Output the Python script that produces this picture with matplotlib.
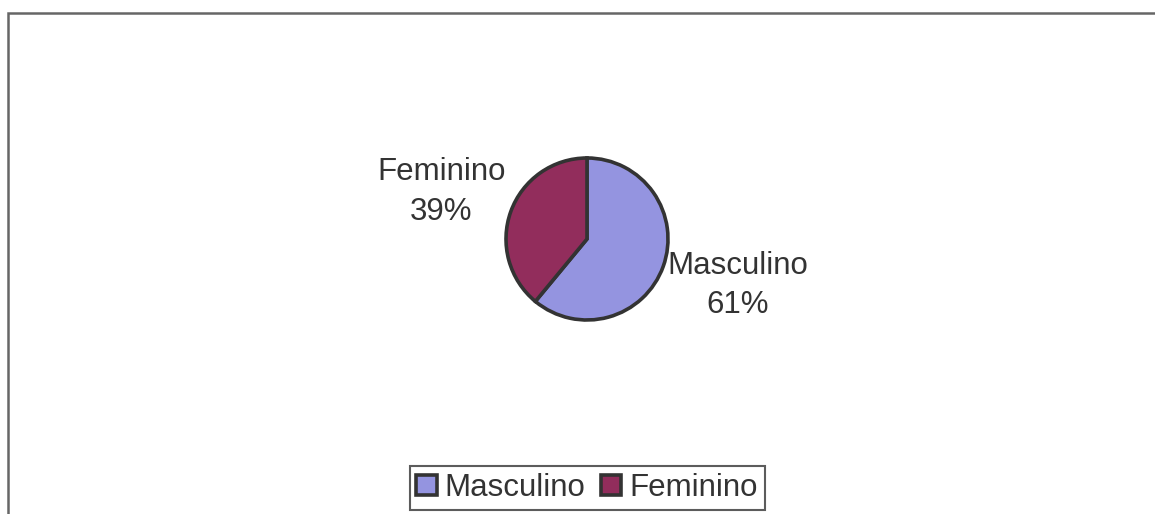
import matplotlib
matplotlib.use("Agg")
import matplotlib.pyplot as plt
from matplotlib.patches import Rectangle
import numpy as np

categories = ["Masculino", "Feminino"]
values = [61, 39]
colors = ["#9494e0", "#922d5c"]

plt.rcParams['font.family'] = ['Liberation Sans', 'DejaVu Sans']

W, H = 1155, 514
fig = plt.figure(figsize=(W / 100, H / 100), dpi=100)
fig.patch.set_facecolor("white")

# outer frame (extends past right and bottom edges)
fig.add_artist(Rectangle((8 / W, -0.1), 1.2, 1 - 13 / H + 0.1, transform=fig.transFigure,
                         fill=False, edgecolor="#666666", linewidth=1.8))

cx, cy, r = 587, 239, 81
ax = fig.add_axes([(cx - r) / W, (H - cy - r) / H, 2 * r / W, 2 * r / H])
wedges, texts = ax.pie(values, colors=colors, startangle=90, counterclock=False,
                       labels=[f"{c}\n{v}%" for c, v in zip(categories, values)],
                       wedgeprops=dict(edgecolor="#333333", linewidth=2.6),
                       textprops=dict(fontsize=22.5, color="#333333", linespacing=1.4))
ax.set_xlim(-1, 1)
ax.set_ylim(-1, 1)
ax.set_aspect("equal")
ax.axis("off")

label_pos = [(1.86, -0.57), (-1.80, 0.58)]
for t, (lx, ly) in zip(texts, label_pos):
    t.set_position((lx, ly))
    t.set_ha("center")
    t.set_va("center")
    t.set_clip_on(False)

leg = fig.legend(wedges, categories, loc="center", bbox_to_anchor=(cx / W, 1 - 488 / H),
                 ncol=2, fontsize=22.5, frameon=True, fancybox=False, edgecolor="#333333",
                 handlelength=0.65, handleheight=0.65, handletextpad=0.25, columnspacing=0.5,
                 borderpad=0.22, borderaxespad=0)
leg.get_frame().set_linewidth(1.5)
for t in leg.get_texts():
    t.set_color("#333333")

fig.savefig("out.png", dpi=100)
